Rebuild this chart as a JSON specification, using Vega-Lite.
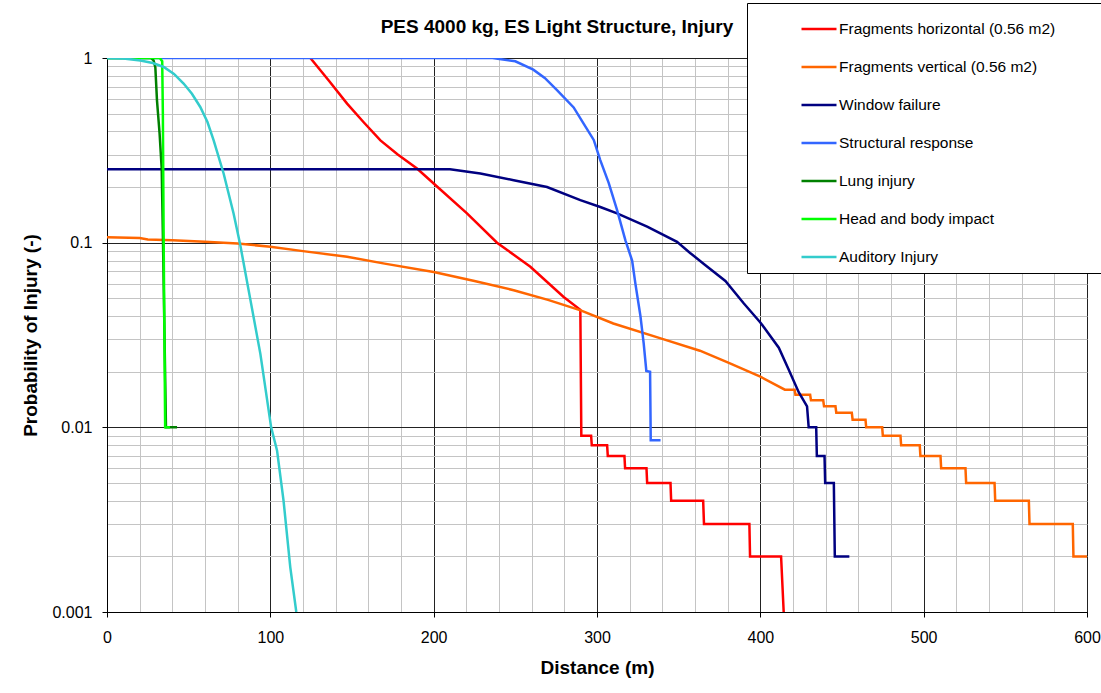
{
  "$schema": "https://vega.github.io/schema/vega-lite/v6.json",
  "autosize": "none",
  "width": 980,
  "height": 554,
  "padding": {"left": 107, "top": 58, "right": 14, "bottom": 81},
  "background": "white",
  "config": {
    "view": {"stroke": "#000", "strokeWidth": 1},
    "font": "Liberation Sans"
  },
  "title": {
    "text": "PES 4000 kg, ES Light Structure, Injury",
    "font": "Liberation Sans",
    "fontSize": 19,
    "fontWeight": "bold",
    "color": "#000",
    "anchor": "middle",
    "frame": "group",
    "dx": -40,
    "dy": 42,
    "offset": 8
  },
  "data": {
    "values": [
      {"s": "Fragments horizontal (0.56 m2)", "x": 124.5, "y": 1},
      {"s": "Fragments horizontal (0.56 m2)", "x": 136, "y": 0.75},
      {"s": "Fragments horizontal (0.56 m2)", "x": 147, "y": 0.566},
      {"s": "Fragments horizontal (0.56 m2)", "x": 157, "y": 0.45},
      {"s": "Fragments horizontal (0.56 m2)", "x": 167.4, "y": 0.358},
      {"s": "Fragments horizontal (0.56 m2)", "x": 178, "y": 0.3},
      {"s": "Fragments horizontal (0.56 m2)", "x": 189.8, "y": 0.252},
      {"s": "Fragments horizontal (0.56 m2)", "x": 200, "y": 0.209},
      {"s": "Fragments horizontal (0.56 m2)", "x": 220.4, "y": 0.144},
      {"s": "Fragments horizontal (0.56 m2)", "x": 238.8, "y": 0.1},
      {"s": "Fragments horizontal (0.56 m2)", "x": 259.2, "y": 0.074},
      {"s": "Fragments horizontal (0.56 m2)", "x": 279.6, "y": 0.0508},
      {"s": "Fragments horizontal (0.56 m2)", "x": 289.8, "y": 0.0433},
      {"s": "Fragments horizontal (0.56 m2)", "x": 290.4, "y": 0.009},
      {"s": "Fragments horizontal (0.56 m2)", "x": 296.4, "y": 0.009},
      {"s": "Fragments horizontal (0.56 m2)", "x": 296.8, "y": 0.008},
      {"s": "Fragments horizontal (0.56 m2)", "x": 306.2, "y": 0.008},
      {"s": "Fragments horizontal (0.56 m2)", "x": 306.6, "y": 0.007},
      {"s": "Fragments horizontal (0.56 m2)", "x": 316.8, "y": 0.007},
      {"s": "Fragments horizontal (0.56 m2)", "x": 317.2, "y": 0.006},
      {"s": "Fragments horizontal (0.56 m2)", "x": 330.3, "y": 0.006},
      {"s": "Fragments horizontal (0.56 m2)", "x": 330.7, "y": 0.005},
      {"s": "Fragments horizontal (0.56 m2)", "x": 345, "y": 0.005},
      {"s": "Fragments horizontal (0.56 m2)", "x": 345.4, "y": 0.004},
      {"s": "Fragments horizontal (0.56 m2)", "x": 365, "y": 0.004},
      {"s": "Fragments horizontal (0.56 m2)", "x": 365.5, "y": 0.003},
      {"s": "Fragments horizontal (0.56 m2)", "x": 393.3, "y": 0.003},
      {"s": "Fragments horizontal (0.56 m2)", "x": 393.7, "y": 0.002},
      {"s": "Fragments horizontal (0.56 m2)", "x": 412.7, "y": 0.002},
      {"s": "Fragments horizontal (0.56 m2)", "x": 414.3, "y": 0.001},

      {"s": "Fragments vertical (0.56 m2)", "x": 0, "y": 0.107},
      {"s": "Fragments vertical (0.56 m2)", "x": 20, "y": 0.106},
      {"s": "Fragments vertical (0.56 m2)", "x": 25, "y": 0.104},
      {"s": "Fragments vertical (0.56 m2)", "x": 40, "y": 0.103},
      {"s": "Fragments vertical (0.56 m2)", "x": 60, "y": 0.101},
      {"s": "Fragments vertical (0.56 m2)", "x": 80, "y": 0.099},
      {"s": "Fragments vertical (0.56 m2)", "x": 100, "y": 0.095},
      {"s": "Fragments vertical (0.56 m2)", "x": 120, "y": 0.09},
      {"s": "Fragments vertical (0.56 m2)", "x": 147, "y": 0.084},
      {"s": "Fragments vertical (0.56 m2)", "x": 170, "y": 0.077},
      {"s": "Fragments vertical (0.56 m2)", "x": 200, "y": 0.0694},
      {"s": "Fragments vertical (0.56 m2)", "x": 225, "y": 0.062},
      {"s": "Fragments vertical (0.56 m2)", "x": 249, "y": 0.0553},
      {"s": "Fragments vertical (0.56 m2)", "x": 270, "y": 0.049},
      {"s": "Fragments vertical (0.56 m2)", "x": 290, "y": 0.043},
      {"s": "Fragments vertical (0.56 m2)", "x": 310, "y": 0.0365},
      {"s": "Fragments vertical (0.56 m2)", "x": 339, "y": 0.0303},
      {"s": "Fragments vertical (0.56 m2)", "x": 363, "y": 0.026},
      {"s": "Fragments vertical (0.56 m2)", "x": 380, "y": 0.0225},
      {"s": "Fragments vertical (0.56 m2)", "x": 400, "y": 0.0188},
      {"s": "Fragments vertical (0.56 m2)", "x": 415, "y": 0.016},
      {"s": "Fragments vertical (0.56 m2)", "x": 421, "y": 0.016},
      {"s": "Fragments vertical (0.56 m2)", "x": 421.5, "y": 0.015},
      {"s": "Fragments vertical (0.56 m2)", "x": 430.5, "y": 0.015},
      {"s": "Fragments vertical (0.56 m2)", "x": 431, "y": 0.014},
      {"s": "Fragments vertical (0.56 m2)", "x": 438.5, "y": 0.014},
      {"s": "Fragments vertical (0.56 m2)", "x": 439, "y": 0.013},
      {"s": "Fragments vertical (0.56 m2)", "x": 446, "y": 0.013},
      {"s": "Fragments vertical (0.56 m2)", "x": 446.5, "y": 0.012},
      {"s": "Fragments vertical (0.56 m2)", "x": 456, "y": 0.012},
      {"s": "Fragments vertical (0.56 m2)", "x": 456.5, "y": 0.011},
      {"s": "Fragments vertical (0.56 m2)", "x": 464.4, "y": 0.011},
      {"s": "Fragments vertical (0.56 m2)", "x": 464.8, "y": 0.01},
      {"s": "Fragments vertical (0.56 m2)", "x": 474.6, "y": 0.01},
      {"s": "Fragments vertical (0.56 m2)", "x": 475, "y": 0.009},
      {"s": "Fragments vertical (0.56 m2)", "x": 485.8, "y": 0.009},
      {"s": "Fragments vertical (0.56 m2)", "x": 486.2, "y": 0.008},
      {"s": "Fragments vertical (0.56 m2)", "x": 497.6, "y": 0.008},
      {"s": "Fragments vertical (0.56 m2)", "x": 498, "y": 0.007},
      {"s": "Fragments vertical (0.56 m2)", "x": 510.3, "y": 0.007},
      {"s": "Fragments vertical (0.56 m2)", "x": 510.7, "y": 0.006},
      {"s": "Fragments vertical (0.56 m2)", "x": 525.6, "y": 0.006},
      {"s": "Fragments vertical (0.56 m2)", "x": 526, "y": 0.005},
      {"s": "Fragments vertical (0.56 m2)", "x": 543.4, "y": 0.005},
      {"s": "Fragments vertical (0.56 m2)", "x": 543.8, "y": 0.004},
      {"s": "Fragments vertical (0.56 m2)", "x": 564.4, "y": 0.004},
      {"s": "Fragments vertical (0.56 m2)", "x": 564.8, "y": 0.003},
      {"s": "Fragments vertical (0.56 m2)", "x": 591.3, "y": 0.003},
      {"s": "Fragments vertical (0.56 m2)", "x": 591.7, "y": 0.002},
      {"s": "Fragments vertical (0.56 m2)", "x": 600, "y": 0.002},

      {"s": "Window failure", "x": 0, "y": 0.25},
      {"s": "Window failure", "x": 210, "y": 0.25},
      {"s": "Window failure", "x": 228.6, "y": 0.237},
      {"s": "Window failure", "x": 249, "y": 0.218},
      {"s": "Window failure", "x": 269.4, "y": 0.2},
      {"s": "Window failure", "x": 289.8, "y": 0.17},
      {"s": "Window failure", "x": 302, "y": 0.156},
      {"s": "Window failure", "x": 312.3, "y": 0.144},
      {"s": "Window failure", "x": 330.7, "y": 0.122},
      {"s": "Window failure", "x": 349, "y": 0.101},
      {"s": "Window failure", "x": 357, "y": 0.088},
      {"s": "Window failure", "x": 366, "y": 0.076},
      {"s": "Window failure", "x": 378.6, "y": 0.062},
      {"s": "Window failure", "x": 389.8, "y": 0.047},
      {"s": "Window failure", "x": 400, "y": 0.037},
      {"s": "Window failure", "x": 411.3, "y": 0.027},
      {"s": "Window failure", "x": 417.4, "y": 0.0205},
      {"s": "Window failure", "x": 423.5, "y": 0.0155},
      {"s": "Window failure", "x": 428.6, "y": 0.013},
      {"s": "Window failure", "x": 429.6, "y": 0.01},
      {"s": "Window failure", "x": 434.2, "y": 0.01},
      {"s": "Window failure", "x": 434.6, "y": 0.007},
      {"s": "Window failure", "x": 439.3, "y": 0.007},
      {"s": "Window failure", "x": 439.7, "y": 0.005},
      {"s": "Window failure", "x": 445, "y": 0.005},
      {"s": "Window failure", "x": 445.6, "y": 0.002},
      {"s": "Window failure", "x": 454.5, "y": 0.002},

      {"s": "Structural response", "x": 0, "y": 1},
      {"s": "Structural response", "x": 236, "y": 1},
      {"s": "Structural response", "x": 250, "y": 0.96},
      {"s": "Structural response", "x": 261, "y": 0.865},
      {"s": "Structural response", "x": 268, "y": 0.78},
      {"s": "Structural response", "x": 275.5, "y": 0.67},
      {"s": "Structural response", "x": 285.7, "y": 0.54},
      {"s": "Structural response", "x": 291.9, "y": 0.44},
      {"s": "Structural response", "x": 298, "y": 0.36},
      {"s": "Structural response", "x": 302, "y": 0.28},
      {"s": "Structural response", "x": 307.2, "y": 0.21},
      {"s": "Structural response", "x": 312.3, "y": 0.15},
      {"s": "Structural response", "x": 317.4, "y": 0.103},
      {"s": "Structural response", "x": 321.5, "y": 0.08},
      {"s": "Structural response", "x": 323.5, "y": 0.06},
      {"s": "Structural response", "x": 326.6, "y": 0.04},
      {"s": "Structural response", "x": 328.6, "y": 0.0284},
      {"s": "Structural response", "x": 330.2, "y": 0.0202},
      {"s": "Structural response", "x": 332.5, "y": 0.02},
      {"s": "Structural response", "x": 332.9, "y": 0.0085},
      {"s": "Structural response", "x": 338.9, "y": 0.0085},

      {"s": "Lung injury", "x": 0, "y": 1},
      {"s": "Lung injury", "x": 27, "y": 1},
      {"s": "Lung injury", "x": 28.5, "y": 0.97},
      {"s": "Lung injury", "x": 29.6, "y": 0.89},
      {"s": "Lung injury", "x": 30.6, "y": 0.59},
      {"s": "Lung injury", "x": 32.2, "y": 0.39},
      {"s": "Lung injury", "x": 33.5, "y": 0.25},
      {"s": "Lung injury", "x": 34.3, "y": 0.1},
      {"s": "Lung injury", "x": 36.1, "y": 0.01},
      {"s": "Lung injury", "x": 42.9, "y": 0.01},

      {"s": "Head and body impact", "x": 0, "y": 1},
      {"s": "Head and body impact", "x": 32.3, "y": 1},
      {"s": "Head and body impact", "x": 33.8, "y": 0.96},
      {"s": "Head and body impact", "x": 34.2, "y": 0.5},
      {"s": "Head and body impact", "x": 34.7, "y": 0.1},
      {"s": "Head and body impact", "x": 35.6, "y": 0.01},
      {"s": "Head and body impact", "x": 38.5, "y": 0.01},

      {"s": "Auditory Injury", "x": 0, "y": 1},
      {"s": "Auditory Injury", "x": 10, "y": 0.995},
      {"s": "Auditory Injury", "x": 20.4, "y": 0.97},
      {"s": "Auditory Injury", "x": 28, "y": 0.94},
      {"s": "Auditory Injury", "x": 34.7, "y": 0.894},
      {"s": "Auditory Injury", "x": 41, "y": 0.82},
      {"s": "Auditory Injury", "x": 46.9, "y": 0.727},
      {"s": "Auditory Injury", "x": 52, "y": 0.64},
      {"s": "Auditory Injury", "x": 57.1, "y": 0.543},
      {"s": "Auditory Injury", "x": 61.5, "y": 0.45},
      {"s": "Auditory Injury", "x": 65.3, "y": 0.358},
      {"s": "Auditory Injury", "x": 71.4, "y": 0.237},
      {"s": "Auditory Injury", "x": 77.5, "y": 0.144},
      {"s": "Auditory Injury", "x": 81.6, "y": 0.097},
      {"s": "Auditory Injury", "x": 87.8, "y": 0.049},
      {"s": "Auditory Injury", "x": 93.9, "y": 0.025},
      {"s": "Auditory Injury", "x": 100.5, "y": 0.01},
      {"s": "Auditory Injury", "x": 104.1, "y": 0.0075},
      {"s": "Auditory Injury", "x": 108.1, "y": 0.004},
      {"s": "Auditory Injury", "x": 112.2, "y": 0.00175},
      {"s": "Auditory Injury", "x": 115.9, "y": 0.001}
    ]
  },
  "mark": {"type": "line", "strokeWidth": 2.5, "clip": true},
  "encoding": {
    "x": {
      "field": "x",
      "type": "quantitative",
      "scale": {"domain": [0, 600], "nice": false, "zero": false},
      "axis": {
        "title": "Distance (m)",
        "values": [0,20,40,60,80,100,120,140,160,180,200,220,240,260,280,300,320,340,360,380,400,420,440,460,480,500,520,540,560,580,600],
        "labelExpr": "datum.value % 100 === 0 ? datum.label : ''",
        "format": "d",
        "grid": true,
        "gridColor": {"condition": {"test": "datum.value % 100 === 0", "value": "#222"}, "value": "#c4c4c4"},
        "gridWidth": 1,
        "tickOpacity": {"condition": {"test": "datum.value % 100 === 0", "value": 1}, "value": 0},
        "tickColor": "#000",
        "tickSize": 5,
        "domainColor": "#000",
        "labelFont": "Liberation Sans",
        "labelFontSize": 16,
        "labelColor": "#000",
        "labelPadding": 12,
        "labelFlush": false,
        "labelOverlap": false,
        "titleFont": "Liberation Sans",
        "titleFontSize": 19,
        "titleFontWeight": "bold",
        "titleColor": "#000",
        "titlePadding": 13
      }
    },
    "y": {
      "field": "y",
      "type": "quantitative",
      "scale": {"type": "log", "domain": [0.001, 1], "nice": false},
      "axis": {
        "title": "Probability of Injury (-)",
        "values": [0.001,0.002,0.003,0.004,0.005,0.006,0.007,0.008,0.009,0.01,0.02,0.03,0.04,0.05,0.06,0.07,0.08,0.09,0.1,0.2,0.3,0.4,0.5,0.6,0.7,0.8,0.9,1],
        "format": "~g",
        "labelExpr": "indexof([0.001,0.01,0.1,1], datum.value) >= 0 ? datum.label : ''",
        "grid": true,
        "gridColor": {"condition": {"test": "indexof([0.001,0.01,0.1,1], datum.value) >= 0", "value": "#222"}, "value": "#c4c4c4"},
        "gridWidth": 1,
        "tickOpacity": {"condition": {"test": "indexof([0.001,0.01,0.1,1], datum.value) >= 0", "value": 1}, "value": 0},
        "tickColor": "#000",
        "tickSize": 5,
        "domainColor": "#000",
        "labelFont": "Liberation Sans",
        "labelFontSize": 16,
        "labelColor": "#000",
        "labelPadding": 10,
        "labelOverlap": false,
        "labelFlush": false,
        "titleFont": "Liberation Sans",
        "titleFontSize": 19,
        "titleFontWeight": "bold",
        "titleColor": "#000",
        "titlePadding": 11
      }
    },
    "color": {
      "field": "s",
      "type": "nominal",
      "scale": {
        "domain": ["Fragments horizontal (0.56 m2)", "Fragments vertical (0.56 m2)", "Window failure", "Structural response", "Lung injury", "Head and body impact", "Auditory Injury"],
        "range": ["#FF0000", "#FF6600", "#000080", "#3366FF", "#008000", "#00FF00", "#33CCCC"]
      },
      "legend": {
        "title": null,
        "orient": "none",
        "legendX": 640,
        "legendY": -55,
        "fillColor": "white",
        "strokeColor": "#000",
        "padding": 7,
        "symbolType": "stroke",
        "symbolSize": 1225,
        "symbolStrokeWidth": 2.5,
        "symbolOffset": 46,
        "rowPadding": 10,
        "labelOffset": 1,
        "labelFont": "Liberation Sans",
        "labelFontSize": 15.5,
        "labelColor": "#000",
        "labelLimit": 400,
        "labelExpr": "datum.label + '\u00a0\u00a0\u00a0\u00a0\u00a0\u00a0\u00a0\u00a0\u00a0\u200b'"
      }
    },
    "order": {"value": null}
  }
}
